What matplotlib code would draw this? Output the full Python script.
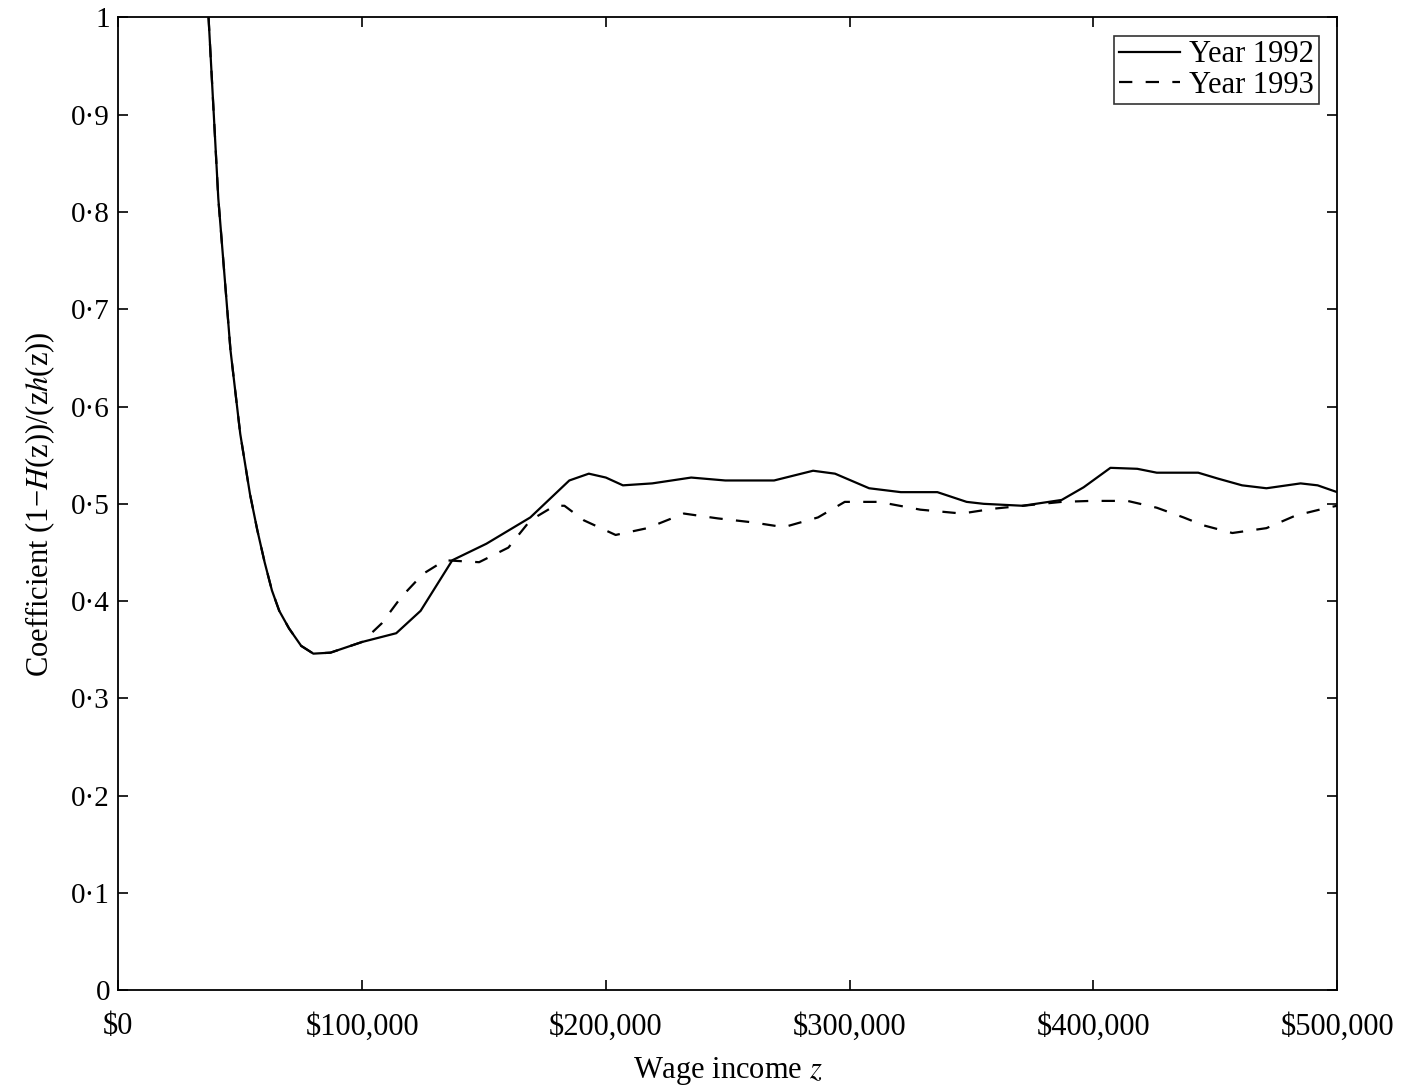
import matplotlib.pyplot as plt
import numpy as np

# wage income (thousands of $) and coefficient values
z_1992 = [37, 41, 46, 50, 54, 57, 60, 63, 66, 70, 75, 80, 87, 100, 114, 124, 137, 151,
          169, 185, 193, 200, 207, 219, 235, 249, 269, 285, 294, 308, 321, 336, 348,
          355, 371, 387, 396, 407, 418, 426, 443, 451, 461, 471, 485, 492, 500]
c_1992 = [1.0, 0.814, 0.658, 0.572, 0.51, 0.473, 0.44, 0.411, 0.39, 0.372, 0.354,
          0.346, 0.347, 0.358, 0.367, 0.39, 0.442, 0.459, 0.486, 0.524, 0.531, 0.527,
          0.519, 0.521, 0.527, 0.524, 0.524, 0.534, 0.531, 0.516, 0.512, 0.512, 0.502,
          0.50, 0.498, 0.504, 0.517, 0.537, 0.536, 0.532, 0.532, 0.526, 0.519, 0.516,
          0.521, 0.519, 0.512]

z_1993 = [37, 41, 46, 50, 54, 57, 60, 63, 66, 70, 75, 80, 87, 100, 108, 116, 125, 134,
          148, 160, 169, 179, 183, 191, 204, 217, 232, 246, 260, 273, 287, 298, 312,
          329, 346, 359, 371, 387, 399, 414, 426, 437, 445, 457, 471, 483, 496, 500]
c_1993 = [1.0, 0.814, 0.658, 0.572, 0.51, 0.473, 0.44, 0.411, 0.39, 0.372, 0.354,
          0.346, 0.347, 0.358, 0.377, 0.404, 0.428, 0.442, 0.44, 0.455, 0.483, 0.498,
          0.498, 0.483, 0.468, 0.475, 0.49, 0.485, 0.481, 0.476, 0.486, 0.502, 0.502,
          0.494, 0.49, 0.495, 0.498, 0.502, 0.503, 0.503, 0.496, 0.486, 0.478, 0.47,
          0.475, 0.488, 0.496, 0.498]

x_ticks = [0, 100000, 200000, 300000, 400000, 500000]
x_labels = ["$0", "$100,000", "$200,000", "$300,000", "$400,000", "$500,000"]
y_ticks = [0, 0.1, 0.2, 0.3, 0.4, 0.5, 0.6, 0.7, 0.8, 0.9, 1.0]
y_labels = ["0", "0·1", "0·2", "0·3", "0·4", "0·5", "0·6", "0·7", "0·8", "0·9", "1"]

plt.rcParams["font.family"] = ["Liberation Serif", "DejaVu Serif"]
plt.rcParams["mathtext.fontset"] = "stix"

fig = plt.figure(figsize=(14.09, 10.87), dpi=100)
ax = fig.add_axes([0.084, 0.089, 0.865, 0.895])

ax.plot(np.array(z_1992) * 1000, c_1992, color="black", lw=1.6, label="Year 1992")
ax.plot(np.array(z_1993) * 1000, c_1993, color="black", lw=1.6,
        dashes=(6, 6), label="Year 1993")

ax.set_xlim(0, 500000)
ax.set_ylim(0, 1)
ax.set_xticks(x_ticks)
ax.set_xticklabels(x_labels)
ax.set_yticks(y_ticks)
ax.set_yticklabels(y_labels)
ax.tick_params(direction="in", length=7, width=1.2, labelsize=21,
               top=True, right=True, pad=6)
ax.tick_params(axis="x", labelsize=22, pad=16)
for s in ax.spines.values():
    s.set_linewidth(1.3)

ax.set_xlabel("Wage income $z$", fontsize=22, labelpad=10)
ax.set_ylabel("Coefficient (1−$H$(z))/(z$h$(z))", fontsize=22, labelpad=10)

leg = ax.legend(loc="upper right", fontsize=22, frameon=True, fancybox=False,
                edgecolor="black", handlelength=2.0, handletextpad=0.3,
                borderpad=0.15, labelspacing=0.05, borderaxespad=0.6)
leg.get_frame().set_linewidth(1.2)

plt.savefig("out.png", dpi=100)
